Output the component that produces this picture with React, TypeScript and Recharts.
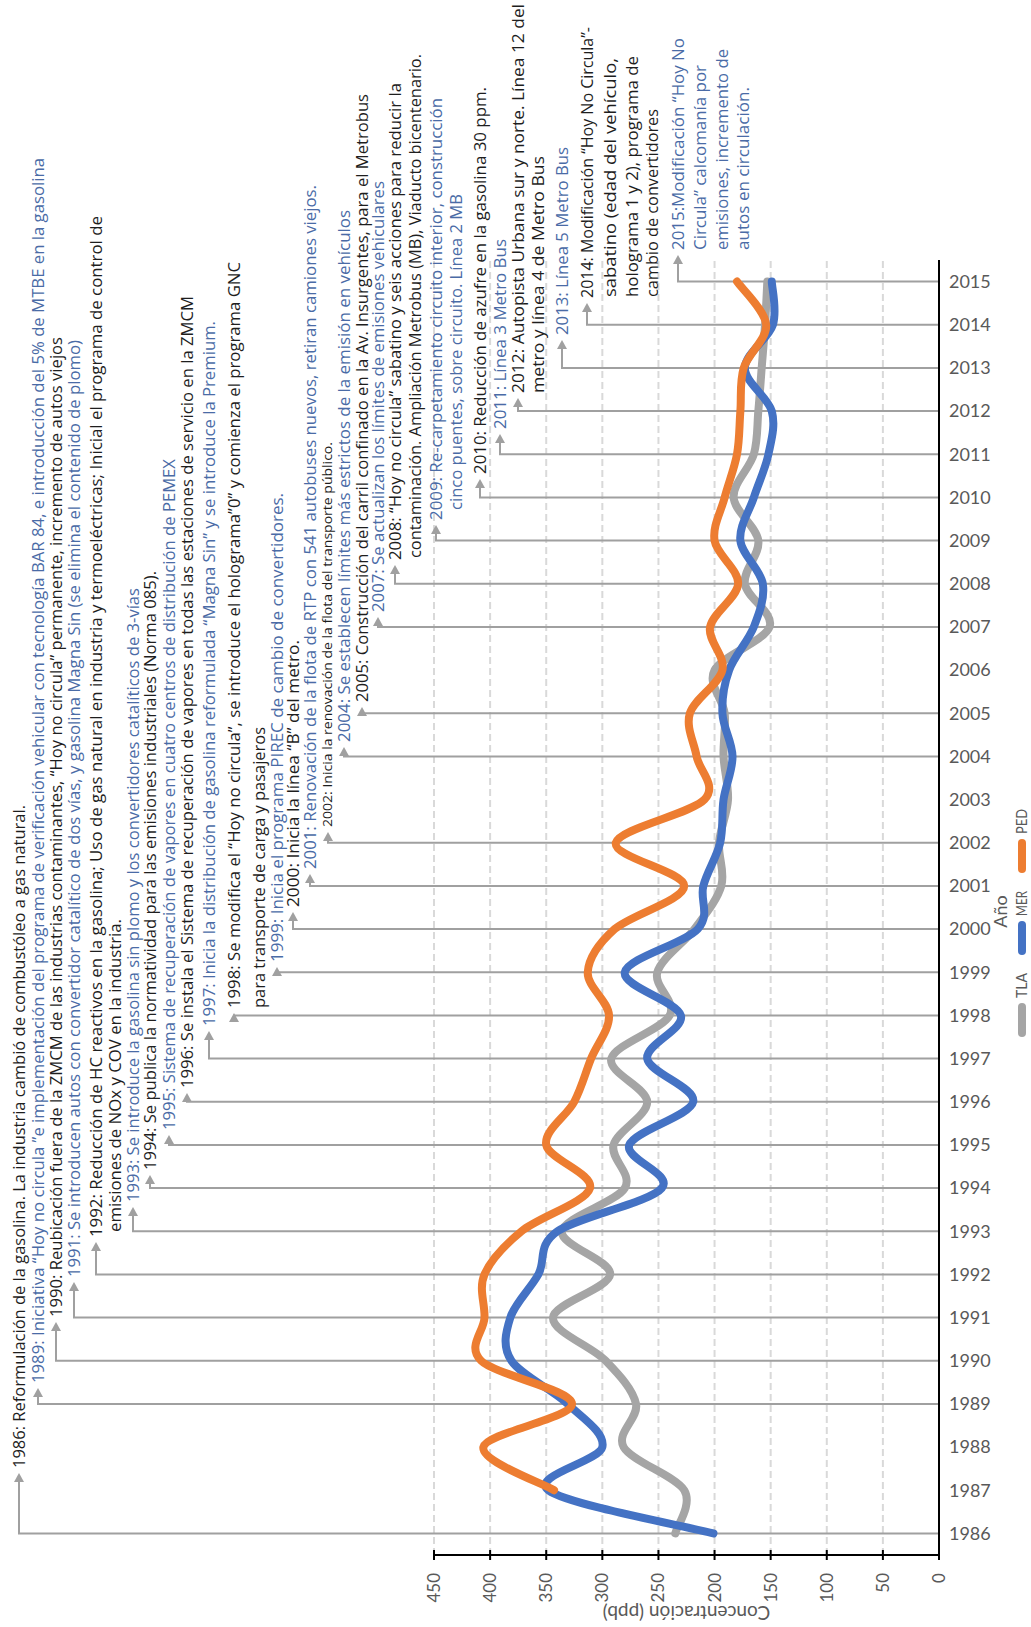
import {
  CartesianGrid,
  Customized,
  Line,
  LineChart,
  ReferenceLine,
  XAxis,
  YAxis,
} from "recharts";

// chart is drawn in landscape, then turned a quarter left to fit the page
const W = 1627;
const H = 1031;
const MARGIN = { top: 434, right: 260, bottom: 62, left: 12 };
const PLOT_LEFT = MARGIN.left + 60;
const PLOT_RIGHT = W - MARGIN.right;
const PLOT_BOTTOM = H - MARGIN.bottom - 30;
const PLOT_MID_Y = (MARGIN.top + PLOT_BOTTOM) / 2;

const years = [
  1986, 1987, 1988, 1989, 1990, 1991, 1992, 1993, 1994, 1995, 1996, 1997, 1998, 1999, 2000,
  2001, 2002, 2003, 2004, 2005, 2006, 2007, 2008, 2009, 2010, 2011, 2012, 2013, 2014, 2015,
];
const tla = [
  235, 227, 281, 270, 297, 344, 293, 336, 280, 290, 260, 292, 240, 251, 218,
  194, 196, 188, 192, 191, 200, 151, 173, 161, 183, 165, 161, 158, 155, 153,
];
const mer = [
  201, 348, 300, 331, 381, 382, 357, 340, 247, 276, 219, 260, 230, 280, 215,
  210, 195, 192, 184, 193, 187, 165, 157, 177, 165, 152, 149, 173, 148, 149,
];
const ped = [
  null, 343, 406, 327, 408, 405, 405, 372, 311, 350, 325, 310, 294, 313, 289,
  227, 288, 209, 216, 222, 193, 204, 179, 200, 191, 180, 177, 174, 154, 180,
];
const valueTicks = [0, 50, 100, 150, 200, 250, 300, 350, 400, 450];
const yearEdges = [...years.map((y) => y - 0.5), years[years.length - 1] + 0.5];

const series = [
  { key: "TLA", color: "#A5A5A5" },
  { key: "MER", color: "#4472C4" },
  { key: "PED", color: "#ED7D31" },
];

const data = years.map((year, i) => ({ year, TLA: tla[i], MER: mer[i], PED: ped[i] }));

const notes = [
  { year: 1986, lines: ["1986: Reformulación de la gasolina. La industria cambió de combustóleo a gas natural."] },
  { year: 1989, lines: ["1989: Iniciativa “Hoy no circula ”e implementación del programa de verificación vehicular con tecnología BAR 84, e introducción del 5% de MTBE en la gasolina"] },
  { year: 1990, lines: ["1990: Reubicación fuera de la ZMCM de las industrias contaminantes, “Hoy no circula” permanente, incremento de autos viejos"] },
  { year: 1991, lines: ["1991: Se introducen autos con convertidor catalítico de dos vías, y gasolina Magna Sin (se elimina el contenido de plomo)"] },
  { year: 1992, lines: ["1992: Reducción de HC reactivos en la gasolina; Uso de gas natural en industria y termoeléctricas; Inicial el programa de control de", "emisiones de NOx y COV en la industria."] },
  { year: 1993, lines: ["1993: Se introduce la gasolina sin plomo y los convertidores catalíticos de 3-vías"] },
  { year: 1994, lines: ["1994: Se publica la normatividad para las emisiones industriales (Norma 085)."] },
  { year: 1995, lines: ["1995: Sistema de recuperación de vapores en cuatro centros de distribución de PEMEX"] },
  { year: 1996, lines: ["1996: Se instala el Sistema de recuperación de vapores en todas las estaciones de servicio en la ZMCM"] },
  { year: 1997, lines: ["1997: Inicia la distribución de gasolina reformulada “Magna Sin” y se introduce la Premium."] },
  { year: 1998, lines: ["1998: Se modifica el “Hoy no circula”, se introduce el holograma”0” y comienza el programa GNC", "para transporte de carga y pasajeros"] },
  { year: 1999, lines: ["1999: Inicia el programa PIREC de cambio de convertidores."] },
  { year: 2000, lines: ["2000: Inicia la línea “B” del metro."] },
  { year: 2001, lines: ["2001: Renovación de la flota de RTP con 541 autobuses nuevos, retiran camiones viejos."] },
  { year: 2002, lines: ["2002: Inicia la renovación de la flota del transporte público."] },
  { year: 2004, lines: ["2004: Se establecen límites más estrictos de la emisión en vehículos"] },
  { year: 2005, lines: ["2005: Construcción del carril confinado en la Av. Insurgentes, para el Metrobus"] },
  { year: 2007, lines: ["2007: Se actualizan los límites de emisiones vehiculares"] },
  { year: 2008, lines: ["2008: “Hoy no circula” sabatino y seis acciones para reducir la", "contaminación. Ampliación Metrobus (MB), Viaducto bicentenario."] },
  { year: 2009, lines: ["2009: Re-carpetamiento circuito interior, construcción", "cinco puentes, sobre circuito. Línea 2 MB"] },
  { year: 2010, lines: ["2010: Reducción de azufre en la gasolina 30 ppm."] },
  { year: 2011, lines: ["2011: Línea 3 Metro Bus"] },
  { year: 2012, lines: ["2012: Autopista Urbana sur y norte. Línea 12 del", "metro y línea 4 de Metro Bus"] },
  { year: 2013, lines: ["2013: Línea 5 Metro Bus"] },
  { year: 2014, lines: ["2014: Modificación “Hoy No Circula”-", "sabatino (edad del vehículo,", "holograma 1 y 2), programa de", "cambio de convertidores"] },
  { year: 2015, lines: ["2015:Modificación “Hoy No", "Circula” calcomanía por", "emisiones, incremento de", "autos en circulación."] },
];

// per note: colour, font size, then per line [row, start, end] measured on the upright page
const noteLook = [
  { blue: false, size: 17, rows: [[19, 1468, 805]] },
  { blue: true, size: 17, rows: [[38, 1383, 158]] },
  { blue: false, size: 17, rows: [[56, 1317, 337]] },
  { blue: true, size: 17, rows: [[74, 1277, 340]] },
  { blue: false, size: 17, rows: [[96, 1237, 216], [115, 1232, 919]] },
  { blue: true, size: 17, rows: [[133, 1202, 588]] },
  { blue: false, size: 17, rows: [[150, 1170, 571]] },
  { blue: true, size: 17, rows: [[169, 1130, 459]] },
  { blue: false, size: 17, rows: [[187, 1088, 296]] },
  { blue: true, size: 17, rows: [[209, 1026, 321]] },
  { blue: false, size: 17, rows: [[234, 1008, 262], [259, 1008, 727]] },
  { blue: true, size: 17, rows: [[277, 962, 493]] },
  { blue: false, size: 17, rows: [[293, 907, 640]] },
  { blue: true, size: 17, rows: [[310, 869, 185]] },
  { blue: false, size: 12, rows: [[328, 827, 442]] },
  { blue: true, size: 17, rows: [[344, 742, 210]] },
  { blue: false, size: 17, rows: [[362, 702, 94]] },
  { blue: true, size: 17, rows: [[378, 612, 181]] },
  { blue: false, size: 17, rows: [[395, 560, 83], [415, 558, 54]] },
  { blue: true, size: 17, rows: [[436, 520, 98], [456, 510, 194]] },
  { blue: false, size: 17, rows: [[480, 474, 87]] },
  { blue: true, size: 17, rows: [[500, 429, 239]] },
  { blue: false, size: 17, rows: [[518, 393, 4], [538, 393, 156]] },
  { blue: true, size: 17, rows: [[562, 335, 147]] },
  { blue: false, size: 17, rows: [[587, 298, 27], [610, 297, 58], [632, 297, 56], [652, 297, 109]] },
  { blue: true, size: 17, rows: [[678, 250, 38], [700, 250, 65], [722, 250, 49], [743, 250, 87]] },
];

const NOTE_GREY = "#A0A0A0";
const TEXT_FONT = "'Open Sans', 'DejaVu Sans', sans-serif";
const AXIS_FONT = "Lato, 'Open Sans', sans-serif";

// Excel-like smoothing (Catmull-Rom through the points)
const excelSmooth = (context: any) => {
  let pts: number[][] = [];
  return {
    areaStart() {},
    areaEnd() {},
    lineStart() {
      pts = [];
    },
    point(x: number, y: number) {
      pts.push([+x, +y]);
    },
    lineEnd() {
      const n = pts.length;
      if (!n) return;
      context.moveTo(pts[0][0], pts[0][1]);
      for (let i = 0; i < n - 1; i++) {
        const p0 = pts[i - 1] || pts[i];
        const p1 = pts[i];
        const p2 = pts[i + 1];
        const p3 = pts[i + 2] || p2;
        context.bezierCurveTo(
          p1[0] + (p2[0] - p0[0]) / 6,
          p1[1] + (p2[1] - p0[1]) / 6,
          p2[0] - (p3[0] - p1[0]) / 6,
          p2[1] - (p3[1] - p1[1]) / 6,
          p2[0],
          p2[1]
        );
      }
    },
  };
};

function NoteMark(props: any) {
  const { x1, y1, y2, idx } = props;
  const note = notes[idx];
  const look = noteLook[idx];
  const bottom = Math.max(y1, y2);
  const [row0, start0] = look.rows[0];
  const tip = Math.max(W - start0 - 5, x1 + 2);
  return (
    <g>
      <path
        d={`M${x1},${bottom}V${row0}H${tip - 7}`}
        stroke={NOTE_GREY}
        strokeWidth={2}
        fill="none"
      />
      <polygon
        points={`${tip},${row0} ${tip - 9},${row0 - 5} ${tip - 9},${row0 + 5}`}
        fill={NOTE_GREY}
      />
      {note.lines.map((t, i) => {
        const [row, start, end] = look.rows[i];
        return (
          <text
            key={i}
            x={W - start}
            y={row}
            dy="0.36em"
            fontSize={look.size}
            fontFamily={TEXT_FONT}
            fill={look.blue ? "#4A6BA6" : "#1E1E1E"}
            textLength={start - end}
            lengthAdjust="spacingAndGlyphs"
          >
            {t}
          </text>
        );
      })}
    </g>
  );
}

function YearTick({ x, y, payload }: any) {
  return (
    <text
      x={x}
      y={y}
      transform={`rotate(90, ${x}, ${y})`}
      textAnchor="start"
      dy="0.35em"
      fontSize={18}
      fontFamily={AXIS_FONT}
      fill="#595959"
    >
      {payload.value}
    </text>
  );
}

const NoTick = () => <g />;

function Extras() {
  const legendY = 1022;
  return (
    <g>
      <text
        x={14}
        y={PLOT_MID_Y}
        transform={`rotate(-90, 14, ${PLOT_MID_Y})`}
        textAnchor="middle"
        dy="0.35em"
        fontSize={19}
        fontFamily={AXIS_FONT}
        fill="#595959"
      >
        Concentración (ppb)
      </text>
      <text
        x={(PLOT_LEFT + PLOT_RIGHT) / 2 - 4}
        y={1001}
        textAnchor="middle"
        dy="0.35em"
        fontSize={18}
        fontFamily={AXIS_FONT}
        fill="#595959"
      >
        Año
      </text>
      {series.map((s, i) => {
        const x0 = 590 + i * 82;
        return (
          <g key={s.key}>
            <line
              x1={x0 + 4}
              x2={x0 + 30}
              y1={legendY}
              y2={legendY}
              stroke={s.color}
              strokeWidth={8}
              strokeLinecap="round"
            />
            <text
              x={x0 + 39}
              y={legendY}
              dy="0.35em"
              fontSize={15}
              fontFamily={AXIS_FONT}
              fill="#595959"
              textLength={25}
              lengthAdjust="spacingAndGlyphs"
            >
              {s.key}
            </text>
          </g>
        );
      })}
    </g>
  );
}

export default function App() {
  return (
    <div
      style={{
        position: "absolute",
        left: 0,
        top: 0,
        width: H,
        height: W,
        overflow: "hidden",
        background: "#fff",
      }}
    >
      <div
        style={{
          position: "absolute",
          left: 0,
          top: 0,
          width: W,
          height: H,
          transformOrigin: "0 0",
          transform: `translate(0px, ${W}px) rotate(-90deg)`,
        }}
      >
        <LineChart width={W} height={H} data={data} margin={MARGIN}>
          <CartesianGrid
            xAxisId="year"
            vertical={false}
            stroke="#D9D9D9"
            strokeWidth={2}
            strokeDasharray="7 4"
          />
          <XAxis
            xAxisId="edges"
            type="number"
            dataKey="year"
            domain={[1985.5, 2015.5]}
            allowDataOverflow
            ticks={yearEdges}
            interval={0}
            height={0}
            axisLine={false}
            tick={NoTick}
            tickSize={10}
            tickLine={{ stroke: "#000", strokeWidth: 2, transform: "translate(0,-5)" }}
          />
          <XAxis
            xAxisId="year"
            type="number"
            dataKey="year"
            domain={[1985.5, 2015.5]}
            allowDataOverflow
            ticks={years}
            interval={0}
            height={30}
            axisLine={{ stroke: "#000", strokeWidth: 2 }}
            tickLine={false}
            tickSize={0}
            tickMargin={10}
            tick={YearTick}
          />
          <YAxis
            width={60}
            domain={[0, 450]}
            ticks={valueTicks}
            interval={0}
            axisLine={{ stroke: "#000", strokeWidth: 2 }}
            tickSize={10}
            tickMargin={8}
            tickLine={{ stroke: "#000", strokeWidth: 2, transform: "translate(5,0)" }}
            tick={{ fill: "#595959", fontSize: 17, fontFamily: AXIS_FONT }}
          />
          {notes.map((n, i) => (
            <ReferenceLine
              key={n.year}
              xAxisId="year"
              x={n.year}
              ifOverflow="visible"
              shape={(p: any) => <NoteMark {...p} idx={i} />}
            />
          ))}
          {series.map((s) => (
            <Line
              key={s.key}
              xAxisId="year"
              dataKey={s.key}
              type={excelSmooth as any}
              stroke={s.color}
              strokeWidth={8}
              strokeLinecap="round"
              strokeLinejoin="round"
              dot={false}
              activeDot={false}
              isAnimationActive={false}
            />
          ))}
          <Customized component={<Extras />} />
        </LineChart>
      </div>
    </div>
  );
}
